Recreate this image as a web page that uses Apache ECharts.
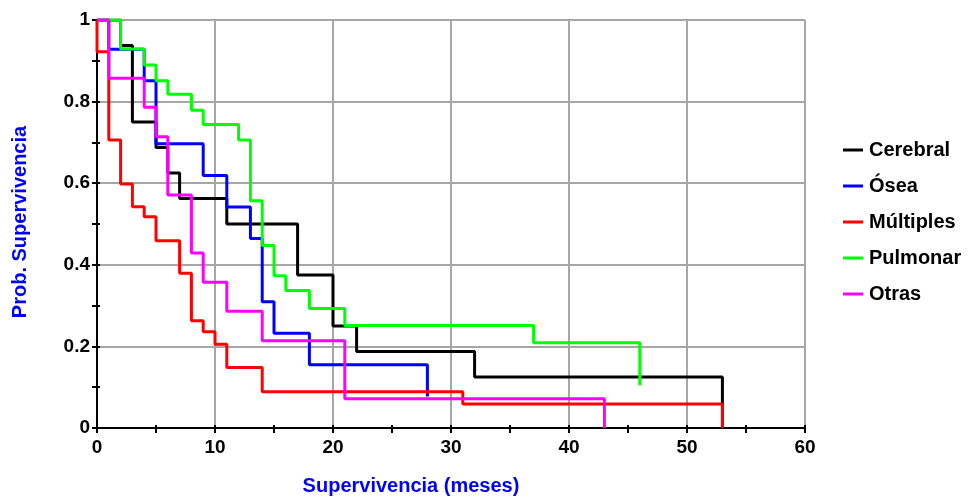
<!DOCTYPE html>
<html>
<head>
<meta charset="utf-8">
<script src="https://cdn.jsdelivr.net/npm/echarts@6/dist/echarts.min.js"></script>
<style>
html,body{margin:0;padding:0;background:#fff;}
#c{width:969px;height:501px;}
</style>
</head>
<body>
<div id="c"></div>
<script>
// Kaplan-Meier curves: event times (months) and survival after each time
var seriesNames = ['Cerebral', 'Ósea', 'Múltiples', 'Pulmonar', 'Otras'];
var cerebralT = [0, 2, 3, 5, 6, 7, 11, 17, 20, 22, 32, 53];
var cerebralS = [1, 0.9375, 0.75, 0.6875, 0.625, 0.5625, 0.5, 0.375, 0.25, 0.1875, 0.125, 0];
var oseaT = [0, 1, 4, 5, 9, 11, 13, 14, 15, 18, 28];
var oseaS = [1, 0.9286, 0.851, 0.6964, 0.619, 0.5417, 0.4643, 0.3095, 0.2321, 0.1548, 0.0774];
var multiplesT = [0, 0, 1, 2, 3, 4, 5, 7, 8, 9, 10, 11, 14, 31, 53];
var multiplesS = [1, 0.922, 0.706, 0.598, 0.542, 0.518, 0.459, 0.379, 0.263, 0.236, 0.205, 0.148, 0.089, 0.059, 0];
var pulmonarT = [0, 2, 4, 5, 6, 8, 9, 12, 13, 14, 15, 16, 18, 21, 37, 46];
var pulmonarS = [1, 0.929, 0.890, 0.851, 0.818, 0.779, 0.744, 0.706, 0.557, 0.447, 0.373, 0.337, 0.293, 0.251, 0.209, 0.105];
var otrasT = [0, 1, 4, 5, 6, 8, 9, 11, 14, 21, 43];
var otrasS = [1, 0.857, 0.786, 0.714, 0.571, 0.429, 0.357, 0.286, 0.214, 0.0714, 0];
var colors = ['#000000', '#0000ff', '#ff0000', '#00ff00', '#ff00ff'];
var xTickLabels = [0, 10, 20, 30, 40, 50, 60];
var yTickLabels = [0, 0.2, 0.4, 0.6, 0.8, 1];

function pairs(t, s) { return t.map(function (v, i) { return [v, s[i]]; }); }
var allData = [pairs(cerebralT, cerebralS), pairs(oseaT, oseaS), pairs(multiplesT, multiplesS),
               pairs(pulmonarT, pulmonarS), pairs(otrasT, otrasS)];

var FONT = 'Liberation Sans, Arial, sans-serif';
var chart = echarts.init(document.getElementById('c'), null, {renderer: 'canvas'});

var series = seriesNames.map(function (n, i) {
  return {
    name: n, type: 'line', step: 'end', data: allData[i],
    xAxisIndex: 0, yAxisIndex: 0,
    symbol: 'none', animation: false,
    lineStyle: {color: colors[i], width: 3},
    itemStyle: {color: colors[i]}
  };
});

chart.setOption({
  animation: false,
  backgroundColor: '#ffffff',
  grid: {left: 97, right: 164, top: 20, bottom: 73, containLabel: false},
  legend: {
    orient: 'vertical', left: 843, top: 140, padding: 0,
    icon: 'rect', itemWidth: 20, itemHeight: 3, itemGap: 16,
    data: seriesNames,
    textStyle: {fontFamily: FONT, fontWeight: 'bold', fontSize: 20, color: '#000', lineHeight: 20, padding: [0,0,0,1]}
  },
  xAxis: [{
    type: 'value', position: 'bottom', min: 0, max: 60, interval: 10,
    axisLine: {show: true, onZero: false, lineStyle: {color: '#000', width: 2}},
    axisTick: {show: true, length: 5, lineStyle: {color: '#000', width: 2}},
    minorTick: {show: true, splitNumber: 2, length: 5, lineStyle: {color: '#000', width: 2}},
    axisLabel: {margin: 10, fontFamily: FONT, fontWeight: 'bold', fontSize: 19, color: '#000',
      formatter: function (v) { return xTickLabels.indexOf(v) >= 0 ? String(v) : ''; }},
    splitLine: {show: true, lineStyle: {color: '#a6a6a6', width: 2}},
    minorSplitLine: {show: false}
  }, {
    type: 'value', position: 'bottom', min: 0, max: 60, interval: 10,
    axisLine: {show: false, onZero: false},
    axisTick: {show: true, inside: true, length: 3, lineStyle: {color: '#000', width: 2}},
    minorTick: {show: true, splitNumber: 2, length: 3, lineStyle: {color: '#000', width: 2}},
    axisLabel: {show: false}, splitLine: {show: false}
  }],
  yAxis: [{
    type: 'value', position: 'left', min: 0, max: 1, interval: 0.2,
    axisLine: {show: true, onZero: false, lineStyle: {color: '#000', width: 2}},
    axisTick: {show: true, length: 5, lineStyle: {color: '#000', width: 2}},
    minorTick: {show: true, splitNumber: 2, length: 5, lineStyle: {color: '#000', width: 2}},
    axisLabel: {margin: 7, fontFamily: FONT, fontWeight: 'bold', fontSize: 19, color: '#000',
      formatter: function (v) {
        for (var k = 0; k < yTickLabels.length; k++) { if (Math.abs(yTickLabels[k] - v) < 1e-6) return String(yTickLabels[k]); }
        return '';
      }},
    splitLine: {show: true, lineStyle: {color: '#a6a6a6', width: 2}},
    minorSplitLine: {show: false}
  }, {
    type: 'value', position: 'left', min: 0, max: 1, interval: 0.2,
    axisLine: {show: false, onZero: false},
    axisTick: {show: true, inside: true, length: 3, lineStyle: {color: '#000', width: 2}},
    minorTick: {show: true, splitNumber: 2, length: 3, lineStyle: {color: '#000', width: 2}},
    axisLabel: {show: false}, splitLine: {show: false}
  }],
  graphic: [{
    type: 'text', x: 411, y: 486,
    style: {text: 'Supervivencia (meses)', fill: '#0000ff', font: 'bold 20px ' + FONT,
            textAlign: 'center', textVerticalAlign: 'middle'}
  }, {
    type: 'text', x: 20, y: 222, rotation: Math.PI / 2,
    style: {text: 'Prob. Supervivencia', fill: '#0000ff', font: 'bold 20px ' + FONT,
            textAlign: 'center', textVerticalAlign: 'middle'}
  }],
  series: series
});
</script>
</body>
</html>
